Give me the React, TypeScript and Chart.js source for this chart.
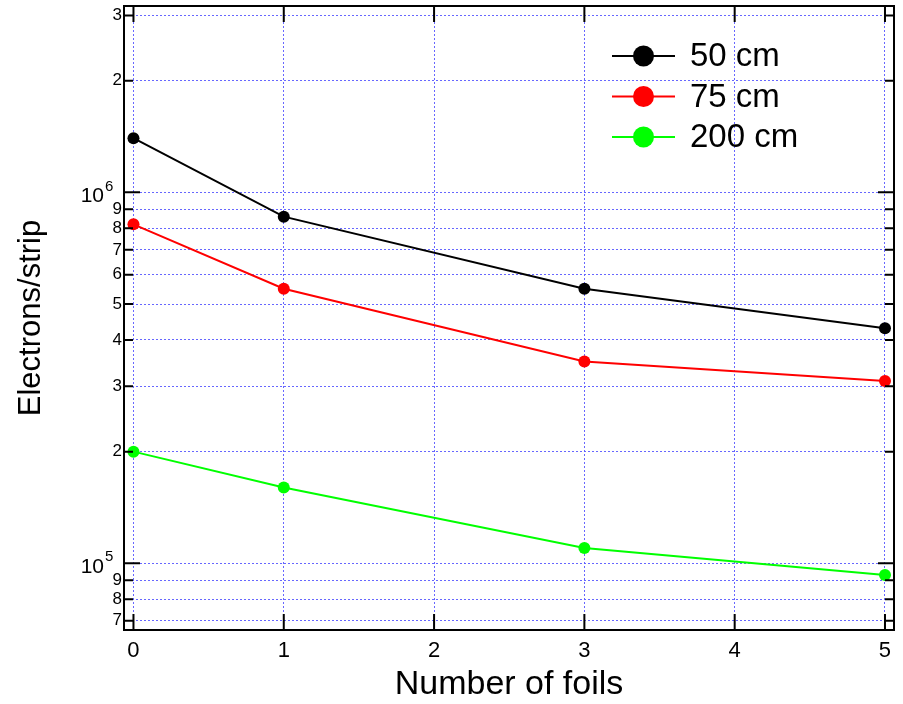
import React, { useEffect, useRef } from 'react';
import { Chart, registerables } from 'chart.js';

Chart.register(...registerables);

const foils = [0, 1, 3, 5];
const series50 = [1.4e6, 8.6e5, 5.5e5, 4.3e5];
const series75 = [8.2e5, 5.5e5, 3.5e5, 3.1e5];
const series200 = [2.0e5, 1.6e5, 1.1e5, 9.3e4];
const seriesLabels = ['50 cm', '75 cm', '200 cm'];
const seriesColors = ['#000000', '#ff0000', '#00ff00'];
const xTicks = [0, 1, 2, 3, 4, 5];
const yTicks = [7e4, 8e4, 9e4, 1e5, 2e5, 3e5, 4e5, 5e5, 6e5, 7e5, 8e5, 9e5, 1e6, 2e6, 3e6];
const xTitle = 'Number of foils';
const yTitle = 'Electrons/strip';

const FONT = "'Liberation Sans', Arial, sans-serif";
const GRID = 'rgba(95,95,255,0.95)';

const isDecade = (v: number) => Math.abs(Math.log10(v) - Math.round(Math.log10(v))) < 1e-9;

const framePlugin = {
  id: 'frame',
  afterDraw(chart: any) {
    const { ctx, chartArea: a, scales } = chart;
    const xs = scales.x;
    const ys = scales.y;
    ctx.save();
    ctx.strokeStyle = '#000';
    ctx.lineWidth = 2;
    ctx.strokeRect(a.left, a.top, a.right - a.left, a.bottom - a.top);
    ctx.beginPath();
    for (const v of xTicks) {
      const px = xs.getPixelForValue(v);
      ctx.moveTo(px, a.bottom);
      ctx.lineTo(px, a.bottom - 16);
      ctx.moveTo(px, a.top);
      ctx.lineTo(px, a.top + 16);
    }
    for (const v of yTicks) {
      const py = ys.getPixelForValue(v);
      const len = isDecade(v) ? 16 : 9;
      ctx.moveTo(a.left, py);
      ctx.lineTo(a.left + len, py);
      ctx.moveTo(a.right, py);
      ctx.lineTo(a.right - len, py);
    }
    ctx.stroke();

    // y tick labels
    ctx.fillStyle = '#000';
    for (const v of yTicks) {
      const py = ys.getPixelForValue(v);
      const e = Math.floor(Math.log10(v) + 1e-9);
      if (isDecade(v)) {
        ctx.font = `21px ${FONT}`;
        ctx.textAlign = 'right';
        ctx.textBaseline = 'middle';
        ctx.fillText('10', a.left - 20, py + 4);
        ctx.font = `15px ${FONT}`;
        ctx.textAlign = 'left';
        ctx.fillText(String(e), a.left - 19, py - 6);
      } else {
        const m = Math.round(v / Math.pow(10, e));
        ctx.font = `17px ${FONT}`;
        ctx.textAlign = 'right';
        ctx.textBaseline = 'middle';
        ctx.fillText(String(m), a.left - 2, py);
      }
    }

    // legend
    const rows = [0, 1, 2];
    for (const i of rows) {
      const yy = 56 + i * 40.5;
      ctx.strokeStyle = seriesColors[i];
      ctx.lineWidth = 2;
      ctx.beginPath();
      ctx.moveTo(612, yy);
      ctx.lineTo(675, yy);
      ctx.stroke();
      ctx.fillStyle = seriesColors[i];
      ctx.beginPath();
      ctx.arc(643.5, yy, 10.5, 0, Math.PI * 2);
      ctx.fill();
      ctx.fillStyle = '#000';
      ctx.font = `33px ${FONT}`;
      ctx.textAlign = 'left';
      ctx.textBaseline = 'middle';
      ctx.fillText(seriesLabels[i], 690, yy + 1);
    }
    ctx.restore();
  },
};

export default function App() {
  const ref = useRef<HTMLCanvasElement>(null);
  useEffect(() => {
    document.body.style.margin = '0';
    const all = [series50, series75, series200];
    const chart = new Chart(ref.current!, {
      type: 'line',
      data: {
        datasets: all.map((s, i) => ({
          label: seriesLabels[i],
          data: s.map((y, j) => ({ x: foils[j], y })),
          borderColor: seriesColors[i],
          backgroundColor: seriesColors[i],
          pointBackgroundColor: seriesColors[i],
          pointBorderWidth: 0,
          pointRadius: 6,
          borderWidth: 2,
          tension: 0,
          fill: false,
        })),
      },
      options: {
        responsive: false,
        animation: false,
        layout: { padding: { left: 0, top: 6, right: 9, bottom: 0 } },
        plugins: { legend: { display: false }, tooltip: { enabled: false } },
        scales: {
          x: {
            type: 'linear',
            min: -0.063,
            max: 5.06,
            afterBuildTicks: (s: any) => {
              s.ticks = xTicks.map((v) => ({ value: v }));
            },
            afterFit: (s: any) => {
              s.height = 74;
            },
            grid: { color: GRID, lineWidth: 1, drawTicks: false },
            border: { display: false, dash: [2, 2] },
            ticks: {
              color: '#000',
              padding: 8,
              font: { family: FONT, size: 22, lineHeight: 1.2 },
              callback: (v: any) => String(v),
              maxRotation: 0,
            },
            title: {
              display: true,
              text: xTitle,
              color: '#000',
              font: { family: FONT, size: 34, lineHeight: 1 },
              padding: { top: 0, bottom: 2 },
            },
          },
          y: {
            type: 'logarithmic',
            min: 6.61e4,
            max: 3.18e6,
            afterBuildTicks: (s: any) => {
              s.ticks = yTicks.map((v) => ({ value: v, major: isDecade(v) }));
            },
            afterFit: (s: any) => {
              s.width = 124;
            },
            grid: { color: GRID, lineWidth: 1, drawTicks: false },
            border: { display: false, dash: [2, 2] },
            ticks: { display: false },
            title: {
              display: true,
              text: yTitle,
              color: '#000',
              font: { family: FONT, size: 31, lineHeight: 1 },
              padding: { top: 16, bottom: 0 },
            },
          },
        },
      },
      plugins: [framePlugin],
    } as any);
    return () => chart.destroy();
  }, []);
  return (
    <div style={{ width: 903, height: 704 }}>
      <canvas ref={ref} width={903} height={704} />
    </div>
  );
}
